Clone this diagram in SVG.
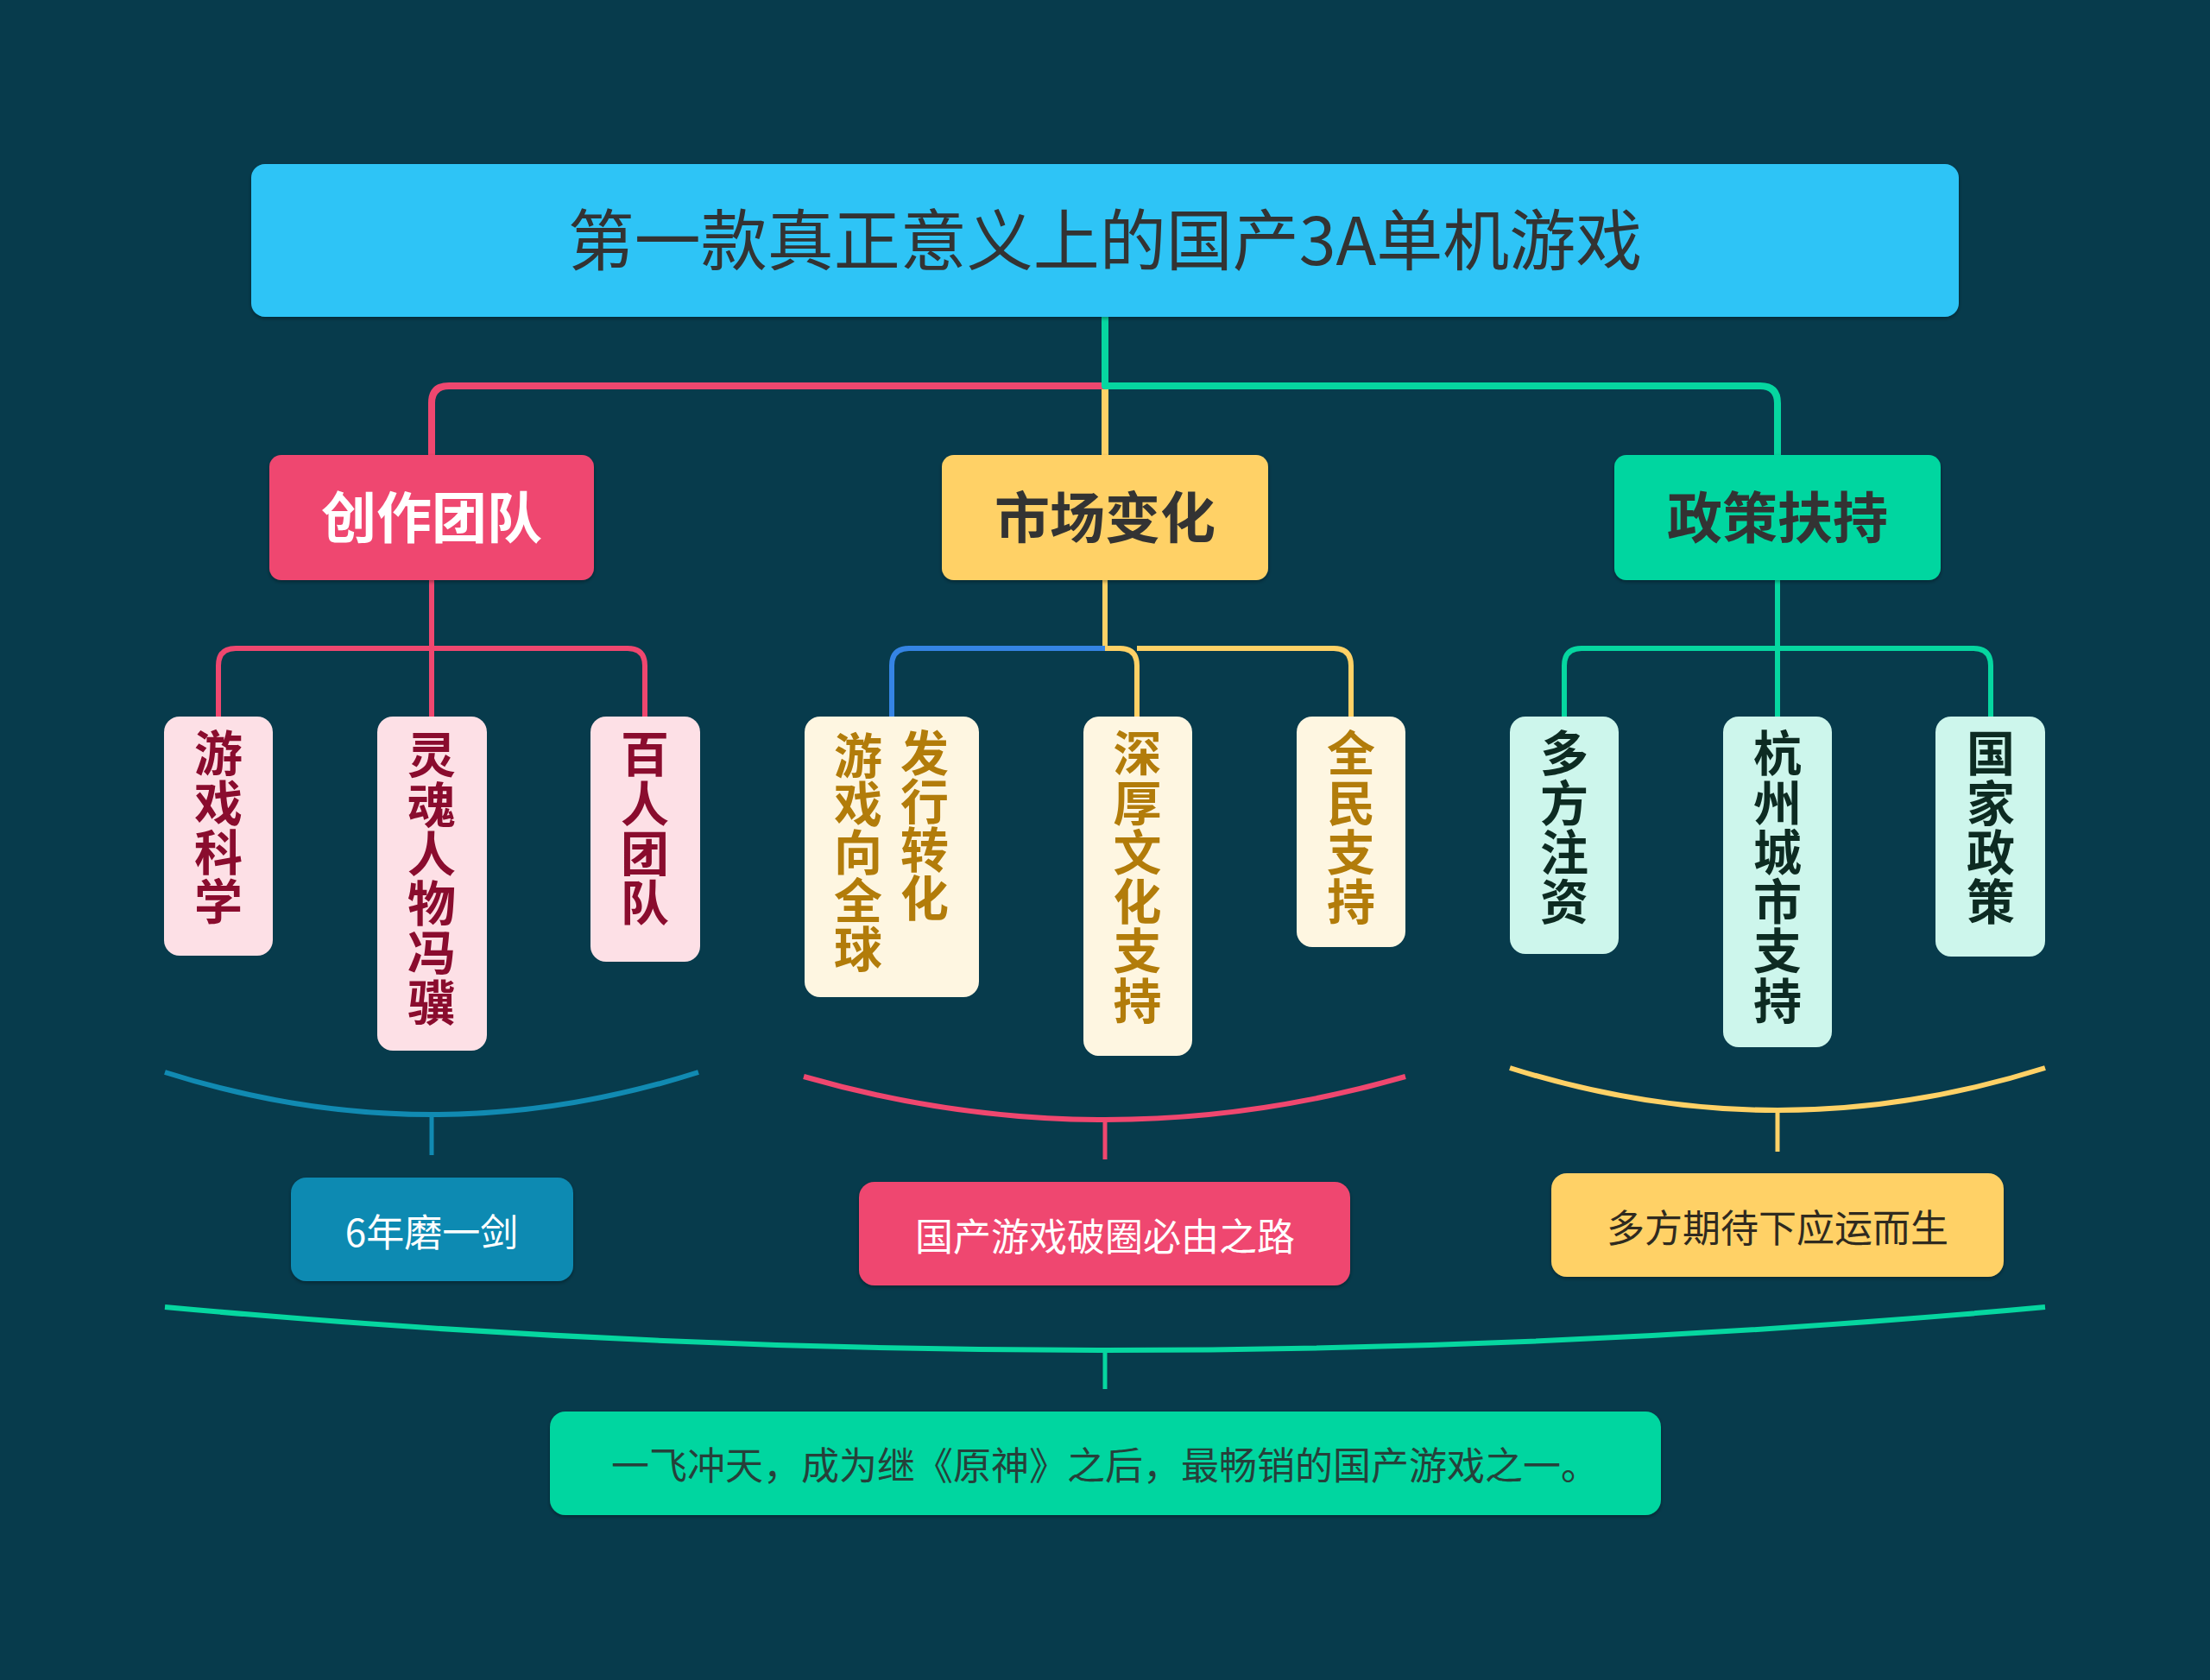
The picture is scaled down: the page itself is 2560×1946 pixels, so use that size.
<svg xmlns="http://www.w3.org/2000/svg" width="2560" height="1946" viewBox="0 0 2560 1946">
  <defs>
    <filter id="sh" x="-10%" y="-10%" width="120%" height="130%">
      <feDropShadow dx="0" dy="2" stdDeviation="2" flood-color="#000000" flood-opacity="0.35"/>
    </filter>
    <style>
      .cjk { font-family: "Noto Sans CJK SC", "Noto Sans", sans-serif; }
      .title { font-size: 77px; fill: #333333; }
      .branch { font-size: 64px; font-weight: bold; }
      .leaf { font-size: 56px; font-weight: bold; writing-mode: vertical-rl; letter-spacing: 1.3px; }
      .leaf2 { letter-spacing: 0px; }
      .sum { font-size: 44px; }
      .c-top { fill: none; stroke-width: 8; stroke-linejoin: round; }
      .c-sub { fill: none; stroke-width: 6; stroke-linejoin: round; }
      .brk { fill: none; stroke-width: 6; stroke-linecap: butt; }
      .stub { fill: none; stroke-width: 5; }
      .lp { fill: #fde0e6; }
      .ly { fill: #fef6e1; }
      .lg { fill: #cdf6ec; }
      .tp { fill: #8a0c2e; }
      .ty { fill: #b27c0a; }
      .tg { fill: #0d2b22; }
    </style>
  </defs>

  <rect x="0" y="0" width="2560" height="1946" fill="#073b4c"/>

  <!-- connectors -->
  <g id="connectors">
    <path class="c-top" stroke="#ffd166" d="M1280,447 V527"/>
    <path class="c-top" stroke="#ef476f" d="M1280,447 H520 Q500,447 500,467 V527"/>
    <path class="c-top" stroke="#06d6a0" d="M1280,367 V447 H2039 Q2059,447 2059,467 V527"/>

    <path class="c-sub" stroke="#ef476f" d="M500,672 V830 M500,751 H273 Q253,751 253,771 V830 M500,751 H727 Q747,751 747,771 V830"/>

    <path class="c-sub" stroke="#ffd166" d="M1280,672 V751 H1297 Q1317,751 1317,771 V830 M1317,751 H1545 Q1565,751 1565,771 V830"/>
    <path class="c-sub" stroke="#3584e4" d="M1280,751 H1053 Q1033,751 1033,771 V830"/>

    <path class="c-sub" stroke="#06d6a0" d="M2059,672 V830 M2059,751 H1832 Q1812,751 1812,771 V830 M2059,751 H2286 Q2306,751 2306,771 V830"/>

    <path class="brk" stroke="#118ab2" d="M191,1242 Q500,1340 809,1242"/>
    <path class="stub" stroke="#118ab2" d="M500,1291 V1338"/>
    <path class="brk" stroke="#ef476f" d="M931,1247 Q1280,1347 1628,1247"/>
    <path class="stub" stroke="#ef476f" d="M1280,1297 V1343"/>
    <path class="brk" stroke="#ffd166" d="M1749,1237 Q2059,1335 2369,1237"/>
    <path class="stub" stroke="#ffd166" d="M2059,1286 V1334"/>
    <path class="brk" stroke="#06d6a0" d="M191,1514 Q1280,1614 2369,1514"/>
    <path class="stub" stroke="#06d6a0" d="M1280,1564 V1609"/>
  </g>

  <!-- root -->
  <g id="root">
    <rect x="291" y="190" width="1978" height="177" rx="16" fill="#2ec4f6" filter="url(#sh)"/>
    <text class="cjk title" x="1280" y="307" text-anchor="middle">第一款真正意义上的国产3A单机游戏</text>
  </g>

  <!-- branches -->
  <g id="branch-team">
    <rect x="312" y="527" width="376" height="145" rx="14" fill="#ef476f" filter="url(#sh)"/>
    <text class="cjk branch" x="500" y="623" text-anchor="middle" fill="#ffffff">创作团队</text>
  </g>
  <g id="branch-market">
    <rect x="1091" y="527" width="378" height="145" rx="14" fill="#ffd166" filter="url(#sh)"/>
    <text class="cjk branch" x="1280" y="623" text-anchor="middle" fill="#333333">市场变化</text>
  </g>
  <g id="branch-policy">
    <rect x="1870" y="527" width="378" height="145" rx="14" fill="#06d6a0" filter="url(#sh)"/>
    <text class="cjk branch" x="2059" y="623" text-anchor="middle" fill="#333333">政策扶持</text>
  </g>

  <!-- leaves: team -->
  <g id="leaf-gamescience">
    <rect class="lp" x="190" y="830" width="126" height="277" rx="18"/>
    <text class="cjk leaf tp" x="253" y="844">游戏科学</text>
  </g>
  <g id="leaf-fengji">
    <rect class="lp" x="437" y="830" width="127" height="387" rx="18"/>
    <text class="cjk leaf tp" x="500" y="846">灵魂人物冯骥</text>
  </g>
  <g id="leaf-hundred">
    <rect class="lp" x="684" y="830" width="127" height="284" rx="18"/>
    <text class="cjk leaf tp" x="747" y="845">百人团队</text>
  </g>

  <!-- leaves: market -->
  <g id="leaf-global">
    <rect class="ly" x="932" y="830" width="202" height="325" rx="18"/>
    <text class="cjk leaf leaf2 ty" x="1071" y="844">发行转化</text>
    <text class="cjk leaf leaf2 ty" x="994" y="847">游戏向全球</text>
  </g>
  <g id="leaf-culture">
    <rect class="ly" x="1255" y="830" width="126" height="393" rx="18"/>
    <text class="cjk leaf ty" x="1317.5" y="844">深厚文化支持</text>
  </g>
  <g id="leaf-people">
    <rect class="ly" x="1502" y="830" width="126" height="267" rx="18"/>
    <text class="cjk leaf ty" x="1565" y="844">全民支持</text>
  </g>

  <!-- leaves: policy -->
  <g id="leaf-invest">
    <rect class="lg" x="1749" y="830" width="126" height="275" rx="18"/>
    <text class="cjk leaf tg" x="1812" y="844">多方注资</text>
  </g>
  <g id="leaf-hangzhou">
    <rect class="lg" x="1996" y="830" width="126" height="383" rx="18"/>
    <text class="cjk leaf tg" x="2059" y="844">杭州城市支持</text>
  </g>
  <g id="leaf-national">
    <rect class="lg" x="2242" y="830" width="127" height="278" rx="18"/>
    <text class="cjk leaf tg" x="2306" y="844">国家政策</text>
  </g>

  <!-- summaries -->
  <g id="sum-team">
    <rect x="337" y="1364" width="327" height="120" rx="18" fill="#118ab2" filter="url(#sh)"/>
    <text class="cjk sum" x="500" y="1444" text-anchor="middle" fill="#ffffff">6年磨一剑</text>
  </g>
  <g id="sum-market">
    <rect x="995" y="1369" width="569" height="120" rx="18" fill="#ef476f" filter="url(#sh)"/>
    <text class="cjk sum" x="1280" y="1449" text-anchor="middle" fill="#ffffff">国产游戏破圈必由之路</text>
  </g>
  <g id="sum-policy">
    <rect x="1797" y="1359" width="524" height="120" rx="18" fill="#ffd166" filter="url(#sh)"/>
    <text class="cjk sum" x="2059" y="1439" text-anchor="middle" fill="#2f2a1f">多方期待下应运而生</text>
  </g>
  <g id="sum-all">
    <rect x="637" y="1635" width="1287" height="120" rx="18" fill="#06d6a0" filter="url(#sh)"/>
    <text class="cjk sum" x="1280" y="1714" text-anchor="middle" fill="#26403a">一飞冲天，成为继《原神》之后，最畅销的国产游戏之一。</text>
  </g>
</svg>
